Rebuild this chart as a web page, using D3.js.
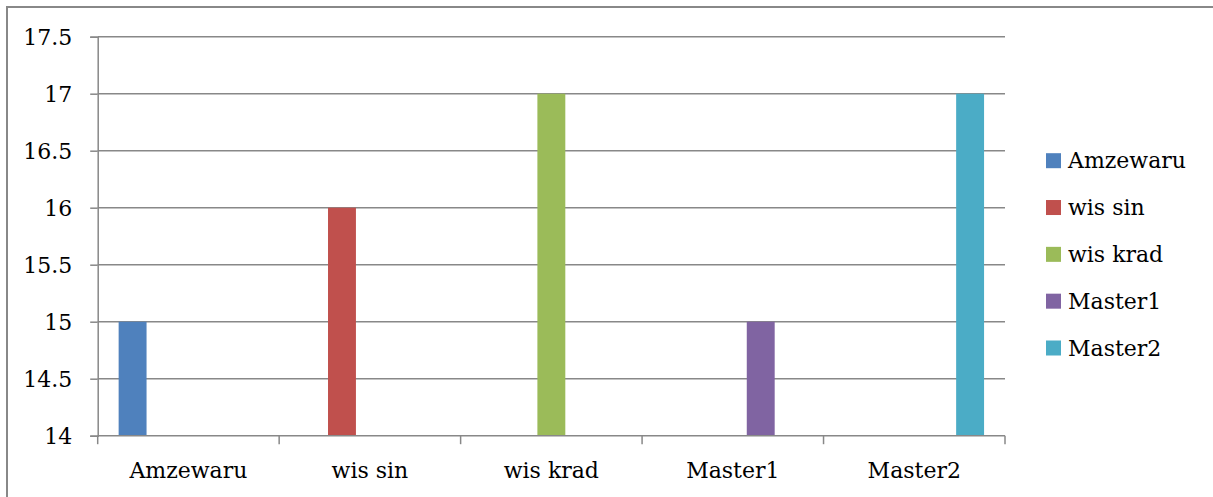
<!DOCTYPE html>
<html>
<head>
<meta charset="utf-8">
<script src="https://cdn.jsdelivr.net/npm/d3@7"></script>
<style>
  html, body { margin: 0; padding: 0; background: #fff; }
  svg { display: block; }
  text { font-family: "DejaVu Serif", serif; fill: #000; }
</style>
</head>
<body>
<svg id="chart" width="1213" height="497"></svg>
<script>
const categories = ["Amzewaru", "wis sin", "wis krad", "Master1", "Master2"];
const seriesNames = ["Amzewaru", "wis sin", "wis krad", "Master1", "Master2"];
// values per series, one per category (null = no bar)
const amzewaru = [15, null, null, null, null];
const wisSin   = [null, 16, null, null, null];
const wisKrad  = [null, null, 17, null, null];
const master1  = [null, null, null, 15, null];
const master2  = [null, null, null, null, 17];
const seriesValues = [amzewaru, wisSin, wisKrad, master1, master2];
const colors = ["#4F81BD", "#C0504D", "#9BBB59", "#8064A2", "#4BACC6"];
const yTicks = [14, 14.5, 15, 15.5, 16, 16.5, 17, 17.5];

(function () {
const svg = d3.select("#chart");
const gridColor = "#888888";

// frame (only left and top edges visible)
svg.append("path")
  .attr("d", "M7,497 L7,7 L1213,7")
  .attr("fill", "none").attr("stroke", gridColor).attr("stroke-width", 2);

const pL = 97.7, pR = 1005, pT = 36.7, pB = 435.7;

const y = d3.scaleLinear().domain([14, 17.5]).range([pB, pT]);
const x0 = d3.scaleBand().domain(categories).range([pL, pR]).paddingInner(0).paddingOuter(0);
const x1 = d3.scaleBand().domain(seriesNames).range([0, x0.bandwidth()]).paddingInner(0).paddingOuter(0.75);

// gridlines
svg.append("g").selectAll("line").data(yTicks.filter(t => t !== 14)).join("line")
  .attr("x1", pL).attr("x2", pR)
  .attr("y1", d => y(d)).attr("y2", d => y(d))
  .attr("stroke", gridColor).attr("stroke-width", 1.5);

// bars
const bars = [];
seriesValues.forEach((vals, si) => {
  vals.forEach((v, ci) => {
    if (v !== null) bars.push({ s: seriesNames[si], c: categories[ci], v, color: colors[si] });
  });
});
svg.append("g").selectAll("rect").data(bars).join("rect")
  .attr("x", d => x0(d.c) + x1(d.s))
  .attr("width", x1.bandwidth())
  .attr("y", d => y(d.v))
  .attr("height", d => y(14) - y(d.v))
  .attr("fill", d => d.color);

// y axis
const yAxis = svg.append("g").attr("transform", `translate(${pL},0)`)
  .call(d3.axisLeft(y).tickValues(yTicks).tickSize(7.5).tickPadding(18).tickFormat(d => String(d)));
yAxis.select(".domain").attr("stroke", gridColor).attr("stroke-width", 1.5);
yAxis.selectAll(".tick line").attr("stroke", gridColor).attr("stroke-width", 1.5);
yAxis.selectAll(".tick text").attr("font-size", 22).attr("font-family", "DejaVu Serif").attr("fill", "#000").attr("dy", "0.34em");

// x axis
const xAxis = svg.append("g").attr("transform", `translate(0,${pB})`);
xAxis.append("line").attr("x1", pL).attr("x2", pR).attr("y1", 0).attr("y2", 0)
  .attr("stroke", gridColor).attr("stroke-width", 1.5);
const tickPos = categories.map(c => x0(c)).concat([pR]);
xAxis.selectAll("line.tk").data(tickPos).join("line").attr("class", "tk")
  .attr("x1", d => d).attr("x2", d => d).attr("y1", 0).attr("y2", 8.5)
  .attr("stroke", gridColor).attr("stroke-width", 1.5);
xAxis.selectAll("text").data(categories).join("text")
  .attr("x", d => x0(d) + x0.bandwidth() / 2)
  .attr("y", 42.5)
  .attr("text-anchor", "middle")
  .attr("font-size", 22)
  .text(d => d);

// legend
const legend = svg.append("g").attr("transform", "translate(1046,0)");
const ly = d3.scalePoint().domain(seriesNames).range([160.7, 348]);
legend.selectAll("rect").data(seriesNames).join("rect")
  .attr("x", 0).attr("y", d => ly(d) - 7.5).attr("width", 15).attr("height", 15)
  .attr("fill", (d, i) => colors[i]);
legend.selectAll("text").data(seriesNames).join("text")
  .attr("x", 22).attr("y", d => ly(d) + 7.5)
  .attr("font-size", 22)
  .text(d => d);
})();
</script>
</body>
</html>
